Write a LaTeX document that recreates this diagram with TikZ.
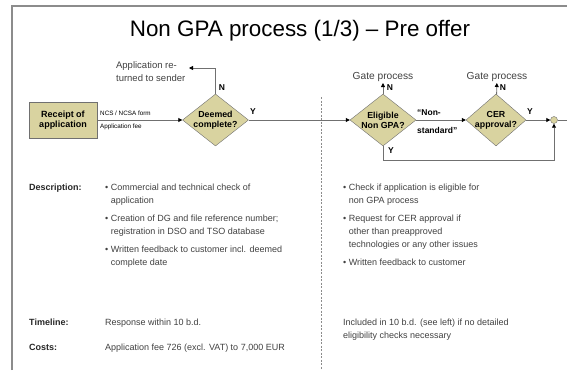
\documentclass[tikz,border=0pt]{standalone}
\usepackage{fontspec}
\setmainfont{Liberation Sans}
\usetikzlibrary{shapes.geometric,arrows.meta,positioning}

\definecolor{khaki}{RGB}{217,211,160}
\definecolor{linegrey}{RGB}{112,112,112}
\definecolor{framegrey}{RGB}{140,140,140}
\definecolor{txtgrey}{RGB}{64,64,64}
\newcommand{\bul}{\textbullet\ }

\tikzset{
  procbox/.style={draw=linegrey, fill=khaki, minimum width=68pt, minimum height=36pt, inner sep=0pt,
    align=center, font=\bfseries\fontsize{9}{10.5}\selectfont},
  decision/.style={diamond, draw=linegrey, fill=khaki, aspect=1.3, inner sep=-2.5pt, align=center,
    minimum width=66pt, minimum height=52pt, font=\bfseries\fontsize{8.8}{10}\selectfont},
  flow/.style={draw=linegrey, line width=0.8pt, -{Triangle[length=4pt,width=4pt,color=black]}},
  plain/.style={draw=linegrey, line width=0.8pt},
  yn/.style={font=\bfseries\fontsize{8.5}{10}\selectfont, inner sep=0pt},
  small/.style={font=\fontsize{6.3}{7}\selectfont, inner sep=0pt, anchor=west},
  note/.style={font=\fontsize{9.5}{13}\selectfont, text=txtgrey, inner sep=1.5pt},
  body/.style={font=\fontsize{9}{13}\selectfont, text=txtgrey, inner sep=0pt, align=left},
  head/.style={font=\bfseries\fontsize{9}{13}\selectfont, text=black!85, inner sep=0pt, anchor=base west}
}

\begin{document}
\begin{tikzpicture}[x=1pt, y=-1pt]
  \useasboundingbox (0,0) rectangle (567,370);

  % Frame
  \draw[framegrey, line width=2pt] (12,370) -- (12,6) -- (567,6);
  \node[font=\fontsize{22.4}{26}\selectfont, anchor=base, inner sep=0pt] (title) at (300,36)
    {Non GPA process (1/3) – Pre offer};

  % Divider
  \draw[framegrey, line width=0.6pt, dash pattern=on 2pt off 1.5pt] (321,97) -- (321,370);

  % Flow
  \node[procbox] (rec) at (63,120) {Receipt of\\application};
  \node[decision] (deem) at (215.5,120) {Deemed\\complete?};
  \node[decision] (elig) at (383,120) {Eligible\\Non GPA?};
  \node[decision, minimum width=60pt] (cer) at (496,120) {CER\\approval?};
  \node[circle, draw=linegrey, fill=khaki, minimum size=7pt, inner sep=0pt] (junc) at (554,120) {};
  \coordinate (rout) at (567,120);
  \coordinate (retend) at (189,68);
  \coordinate (loop) at (554,160);

  \draw[flow] (rec) -- (deem);
  \node[small] (form) at (100,113) {NCS / NCSA form};
  \node[small] (fee) at (100,127) {Application fee};

  \draw[flow] (deem.north) |- (retend);
  \node[note, anchor=east, align=left] (returned) at (187,72) {Application re-\\turned to sender};
  \node[yn] (deemN) at (222,88) {N};
  \node[yn] (deemY) at (253,112) {Y};

  \draw[flow] (deem) -- (elig);
  \node[note, font=\fontsize{10.2}{13}\selectfont, anchor=south] (gate1) at (383,83) {Gate process};
  \draw[flow] (elig) -- (gate1);
  \node[yn] (eligN) at (390,88) {N};
  \node[yn] (eligY) at (391,151) {Y};
  \node[font=\bfseries\fontsize{8.5}{10}\selectfont, align=left, anchor=west, inner sep=0pt] (nonstd)
    at (417,121.5) {“Non-\\[8pt]standard”};

  \draw[flow] (elig) -- (cer);
  \node[note, font=\fontsize{10.2}{13}\selectfont, anchor=south] (gate2) at (497,83) {Gate process};
  \draw[flow] (cer) -- (gate2);
  \node[yn] (cerN) at (503,88) {N};
  \node[yn] (cerY) at (530,112) {Y};

  \draw[flow] (cer) -- (junc);
  \draw[flow] (elig.south) |- (loop) -- (junc.south);
  \draw[plain] (junc.east) -- (rout);

  % Text below
  \node[head] (desc) at (29,190.5) {Description:};
  \node[body, anchor=north west] (descL) at (105,183.5)
    {\bul Commercial and technical check of\\
     \hphantom{\bul}application\\[5pt]
     \bul Creation of DG and file reference number;\\
     \hphantom{\bul}registration in DSO and TSO database\\[5pt]
     \bul Written feedback to customer incl. deemed\\
     \hphantom{\bul}complete date};
  \node[body, anchor=north west] (descR) at (343,183.5)
    {\bul Check if application is eligible for\\
     \hphantom{\bul}non GPA process\\[5pt]
     \bul Request for CER approval if\\
     \hphantom{\bul}other than preapproved\\
     \hphantom{\bul}technologies or any other issues\\[5pt]
     \bul Written feedback to customer};

  \node[head] (time) at (29,325.5) {Timeline:};
  \node[body, anchor=base west] (timeL) at (105,325.5) {Response within 10 b.d.};
  \node[body, anchor=north west] (timeR) at (343,318.5)
    {Included in 10 b.d. (see left) if no detailed\\eligibility checks necessary};

  \node[head] (cost) at (29,350.5) {Costs:};
  \node[body, anchor=base west] (costL) at (105,350.5) {Application fee 726 (excl. VAT) to 7,000 EUR};
\end{tikzpicture}
\end{document}
